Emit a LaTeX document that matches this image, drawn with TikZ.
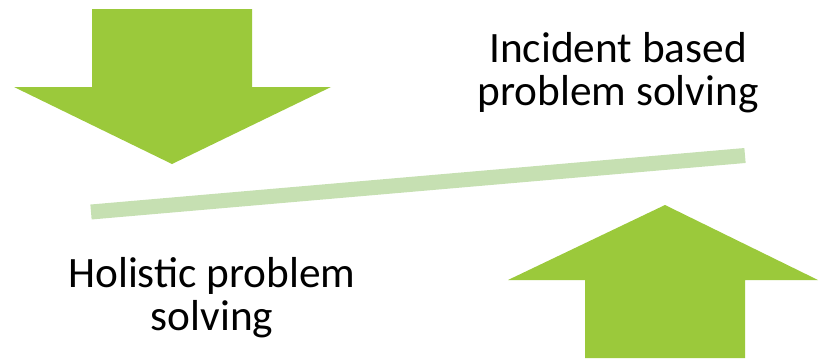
\documentclass[tikz,border=0pt]{standalone}
\usepackage{fontspec}
\setmainfont{Carlito}
\usepackage{tikz}
\definecolor{arrowgreen}{HTML}{9BC93B}
\definecolor{beamgreen}{HTML}{C6E0B2}

\begin{document}
\begin{tikzpicture}[x=0.75pt,y=-0.75pt]
  \useasboundingbox (0,0) rectangle (819,358);
  % arrows
  \fill[arrowgreen] (92,9) -- (252,9) -- (252,87) -- (331,87) -- (172,164) -- (14,87) -- (92,87) -- cycle;
  \fill[arrowgreen] (665,205) -- (818,280) -- (745,280) -- (745,358) -- (585,358) -- (585,280) -- (508,280) -- cycle;
  % beam
  \coordinate (bl) at (91,212);
  \coordinate (br) at (745,155.5);
  \draw[beamgreen,line width=11.25pt] (bl) -- (br);
  % labels
  \node[align=center,font=\fontsize{32.5}{32.5}\selectfont,inner sep=0pt] (inc) at (618,73) {Incident based\\problem solving};
  \node[align=center,font=\fontsize{32.5}{32.5}\selectfont,inner sep=0pt] (hol) at (212,298) {Holistic problem\\solving};
\end{tikzpicture}
\end{document}
